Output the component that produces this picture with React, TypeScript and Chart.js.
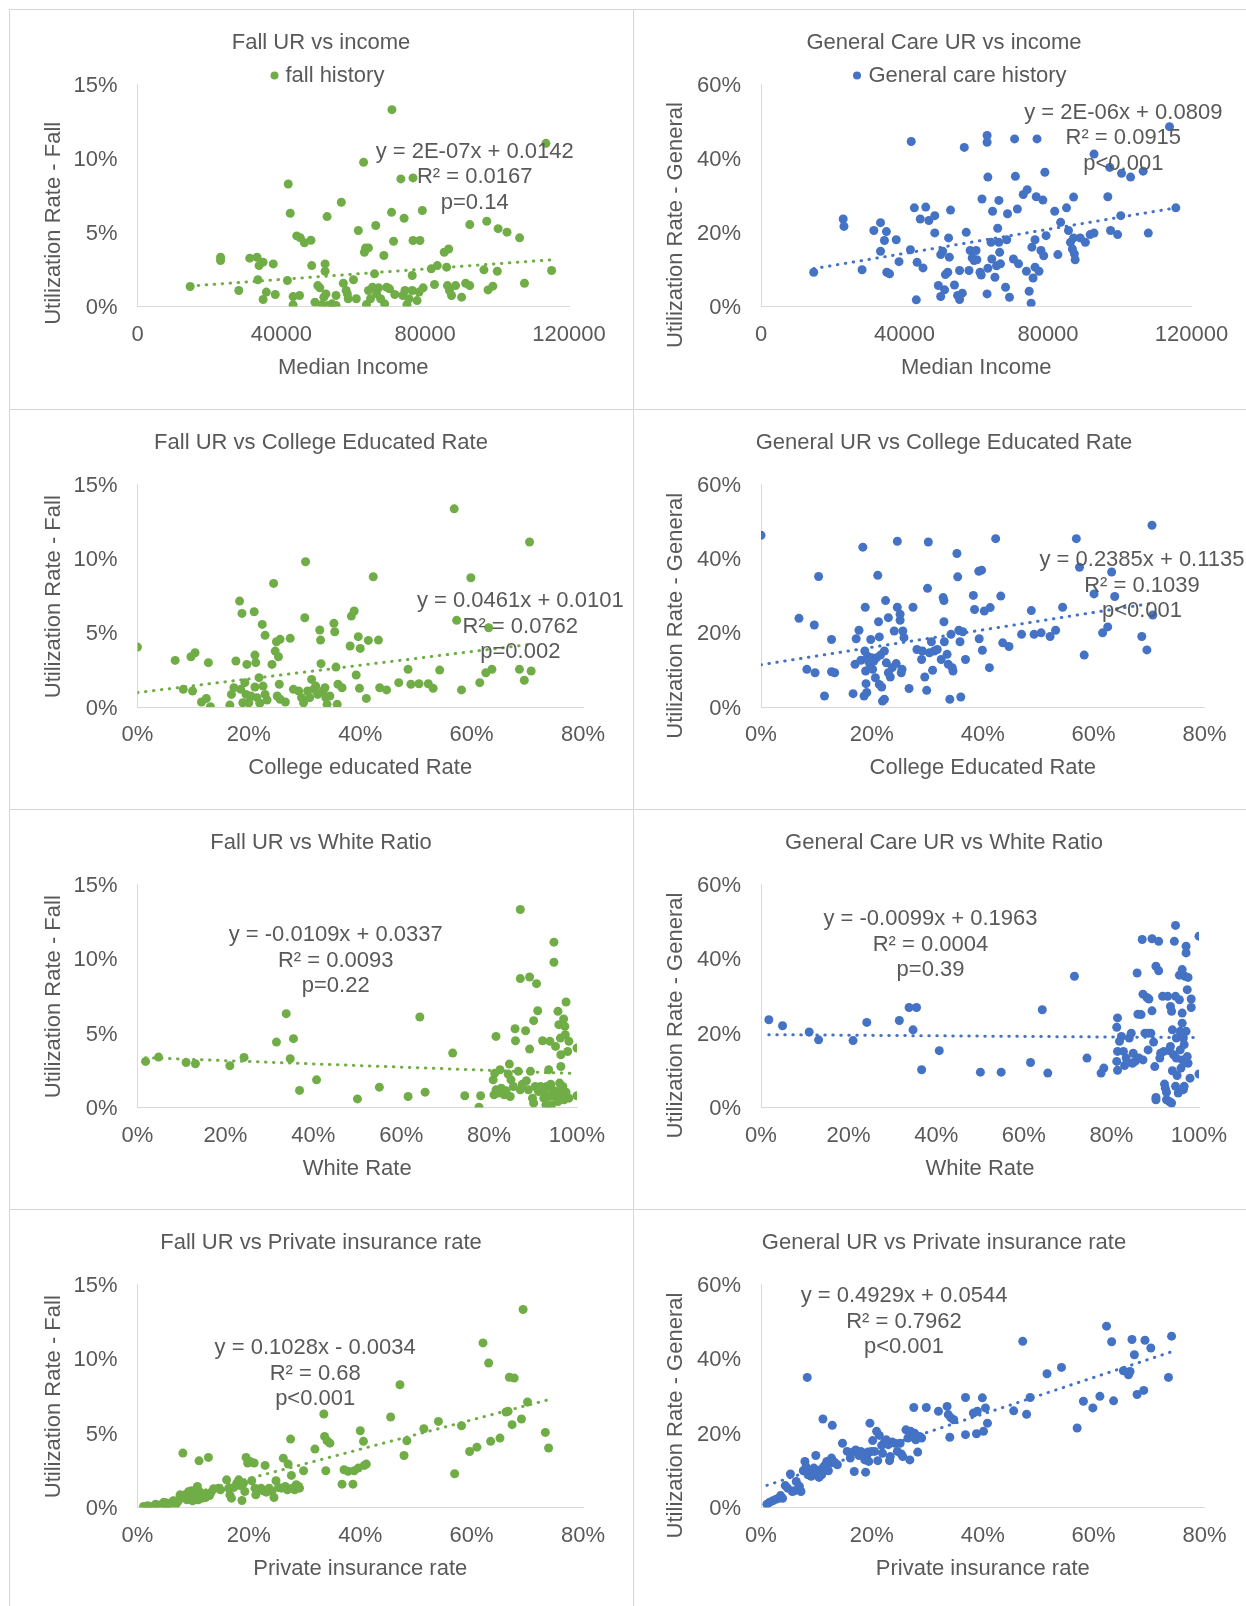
import React, { useEffect, useRef } from 'react';
import { Chart, registerables } from 'chart.js';
Chart.register(...registerables);

const GREEN = '#70AD47';
const BLUE = '#4472C4';
const TEXT = '#595959';
const AXIS = '#D9D9D9';
const FRAME = '#D6D6D6';
const FONT = '"Liberation Sans", Arial, Helvetica, sans-serif';

// ---------- tick labels ----------
const incomeTicks = [0, 40000, 80000, 120000];
const pct80Ticks = [0, 20, 40, 60, 80];
const pct100Ticks = [0, 20, 40, 60, 80, 100];
const fallTicks = [0, 5, 10, 15];
const generalTicks = [0, 20, 40, 60];

// ---------- Fall UR vs income ----------
const incomeFallX = [14650,23100,23100,28170,31210,33240,33800,33470,34930,34930,35830,37750,38310,41690,41920,42480,43270,43270,44280,45300,46420,45070,48230,48450,49350,50140,50710,51270,52170,52170,52730,51830,52400,52960,54090,55210,55210,56680,57240,58030,58370,58590,60060,61410,60850,62880,63100,63440,64230,63670,64230,64790,65350,65920,66260,66480,67050,67610,68510,68730,69300,70090,70650,70760,71210,71550,73240,74140,73800,74370,74930,75500,76400,76620,76620,76400,77750,78310,78540,79210,79440,81690,82590,83380,85300,85970,86540,86200,86760,87330,88460,90140,91270,92400,92400,96340,97130,97470,98820,100060,100290,102760,106260,107610,113580,115160];
const incomeFallY = [1.35,3.32,3.10,1.08,3.26,3.32,2.76,1.80,2.99,0.47,0.97,2.87,0.81,1.75,8.26,6.29,0.67,0.11,4.76,4.63,4.29,0.74,4.47,2.76,0.29,1.41,1.26,0.13,2.87,2.38,6.06,0.63,0.85,0.07,0.18,0.74,0.07,7.03,1.57,1.08,0.85,0.52,1.80,5.12,0.52,9.72,3.66,3.95,3.95,0.13,1.08,0.52,1.30,2.20,5.46,0.85,1.26,0.52,3.44,0.18,1.30,1.19,6.35,13.27,4.40,0.81,8.60,5.95,0.74,1.08,0.13,0.52,2.09,8.67,4.45,1.08,0.40,0.97,4.45,6.47,1.26,2.54,1.48,2.76,3.66,2.65,3.88,1.41,1.08,0.74,1.41,0.63,1.57,1.41,5.52,2.47,5.75,1.12,1.37,2.38,5.25,5.01,4.63,1.57,11.0,2.43];
const incomeFallTrendX = [14650, 115160];
const incomeFallTrendY = [1.38, 3.15];

// ---------- General Care UR vs income ----------
const incomeGenX = [14690,22910,23130,28170,31460,33320,33320,34410,34960,35070,35840,37700,38470,41650,41870,42740,43290,43510,44390,45160,45920,46800,48440,48440,49430,50090,50090,50640,51180,51400,52060,52280,52500,52830,53920,54800,55350,56120,55350,56660,57210,57980,58310,58860,59400,59950,60170,61050,61600,61380,63020,63020,63240,63020,63240,64120,64340,64550,65210,65650,66310,65980,66310,66530,66750,68170,68500,68720,69270,70690,70910,70360,71460,71790,73100,74200,73980,74750,75300,75510,75840,76390,76720,76940,76390,77490,78040,78580,78800,79130,79460,81870,82750,83520,85160,85710,86260,86800,87130,87130,87350,87570,88990,90420,91740,92830,92830,96670,97220,97430,99410,100280,100500,103020,106530,107960,113870,115630];
const incomeGenY = [9.25,23.6,21.6,9.9,20.5,22.6,14.9,17.8,20.2,9.25,8.8,18.0,12.1,15.3,44.5,26.6,1.8,11.9,23.6,10.4,26.8,23.2,24.5,19.85,5.66,2.7,14.0,14.9,4.5,8.6,9.25,18.5,13.3,26.0,5.8,3.0,1.9,3.6,9.7,42.9,20.0,9.7,15.1,13.1,12.4,15.1,12.6,9.25,29.0,8.5,46.1,44.3,34.9,3.4,10.3,17.3,12.8,25.7,7.9,11.0,28.6,21.1,17.3,14.6,11.5,5.2,18.0,25.0,2.5,45.2,35.1,12.8,26.3,11.5,30.2,31.5,9.5,4.1,0.9,16.0,7.7,10.6,29.6,45.2,18.0,9.5,15.1,28.7,13.7,36.2,19.1,25.7,14.0,22.7,26.6,20.5,17.3,15.5,18.5,29.5,14.2,12.6,18.5,17.3,19.4,19.8,41.1,29.6,37.5,20.5,19.4,24.5,35.9,34.9,36.5,19.8,48.5,26.6];
const incomeGenTrendX = [14690, 115630];
const incomeGenTrendY = [10.2, 26.6];

// ---------- Fall UR vs College Educated Rate ----------
const collegeFallX = [0,6.76,8.22,9.6,9.89,10.33,12.73,11.49,12.36,13.09,16.58,16.87,17.31,17.67,18.33,18.76,18.55,18.91,19.27,19.49,19.64,20.0,20.36,20.95,21.09,21.24,21.09,21.45,21.82,21.96,22.4,22.55,22.91,22.91,23.27,24.15,24.44,24.73,24.95,25.31,25.6,25.46,25.09,25.6,26.55,27.42,28.0,28.95,29.46,29.82,30.04,30.18,30.55,30.91,31.27,31.64,32.0,32.36,32.73,32.87,32.95,33.31,33.67,33.82,34.04,34.55,35.27,35.42,35.64,35.86,36.0,36.73,38.18,38.4,38.91,39.27,39.64,40.0,39.86,41.09,41.45,42.33,43.27,43.49,44.73,46.91,48.58,49.09,50.55,52.22,53.09,54.26,57.31,56.87,58.18,59.86,61.46,62.55,63.06,63.64,68.58,69.46,70.4,70.69];
const collegeFallY = [4.04,3.14,1.19,3.39,1.08,3.66,2.99,0.34,0.58,0.02,0.13,0.85,1.30,3.10,7.14,6.31,1.19,0.29,1.64,0.85,2.87,0.29,0.74,6.42,3.50,2.99,1.35,0.63,1.98,0.25,5.57,1.41,4.83,0.85,0.47,2.87,8.33,3.77,4.40,3.39,4.56,1.53,0.74,0.52,0.34,4.63,1.19,1.08,0.63,0.29,6.02,9.79,1.08,0.63,1.86,1.19,1.41,0.85,5.19,4.51,2.92,1.08,1.30,0.63,0.18,0.74,5.64,5.07,2.69,0.18,1.53,1.30,4.11,6.13,6.47,2.16,4.74,3.95,1.26,0.58,4.49,8.78,4.51,1.30,1.15,1.64,2.54,1.53,1.57,1.57,1.26,2.49,5.84,13.36,1.15,8.71,1.64,2.31,5.34,2.54,2.54,1.80,11.12,2.43];
const collegeFallTrendX = [0, 70.69];
const collegeFallTrendY = [0.97, 4.23];

// ---------- General UR vs College Educated Rate ----------
const collegeGenX = [0,6.85,8.27,9.61,9.75,10.39,11.45,12.72,12.72,13.29,16.61,16.96,17.17,17.67,18.02,18.37,18.59,18.8,18.73,18.87,18.94,19.08,19.22,19.43,19.65,19.79,19.93,20.14,20.35,20.64,20.85,21.06,21.2,21.34,21.34,21.55,21.77,21.91,22.26,22.26,22.47,22.61,22.97,22.97,23.32,23.67,24.03,24.38,24.59,24.59,25.09,25.09,25.3,25.44,25.58,25.79,26.71,27.42,28.13,28.97,29.12,29.54,29.89,30.04,30.18,30.39,30.74,30.95,31.24,31.8,32.51,32.86,33.0,33.0,33.07,33.57,33.78,34.06,34.27,34.49,34.63,35.34,35.48,35.69,35.9,36.04,36.4,36.89,38.3,38.52,39.29,39.79,39.36,39.93,40.28,41.34,41.2,42.33,43.25,43.6,44.73,47.0,48.76,49.26,50.53,52.15,53.14,54.41,56.88,57.45,58.3,60.07,61.62,62.54,63.25,63.81,68.69,69.61,70.67,70.53];
const collegeGenY = [46.3,23.9,10.15,22.1,9.25,35.2,2.96,18.2,9.5,9.25,3.6,11.5,18.4,20.7,12.6,43.1,2.96,26.9,15.1,9.7,6.3,3.9,13.7,12.2,10.6,18.2,13.3,10.15,12.4,7.9,13.3,35.5,23.0,18.9,6.1,14.0,5.4,1.6,2.1,15.1,28.7,11.9,24.1,9.25,8.1,10.6,20.5,11.7,44.7,26.9,23.4,25.0,9.25,10.15,20.5,18.7,5.0,26.9,15.5,12.8,15.1,8.1,4.5,32.0,44.5,14.6,17.6,9.9,15.1,15.5,12.8,29.5,28.7,23.0,17.6,14.2,11.5,2.1,19.6,10.6,9.7,41.4,35.1,20.7,17.6,2.7,20.3,12.8,30.1,26.3,36.6,36.9,18.4,15.3,25.9,26.8,10.6,45.4,29.9,17.3,16.3,19.6,26.0,19.6,20.0,19.0,20.7,26.9,45.4,37.7,14.0,30.5,20.0,21.6,36.4,29.8,19.0,15.4,24.8,49.0];
const collegeGenTrendX = [0, 70.67];
const collegeGenTrendY = [11.4, 28.0];

// ---------- Fall UR vs White Ratio ----------
const whiteFallX = [1.84,4.79,11.06,13.18,21.01,24.24,31.61,33.83,34.75,35.49,36.87,40.74,50.05,55.03,61.57,64.24,65.44,71.71,74.47,77.7,78.07,80.93,81.29,81.57,81.11,81.57,82.03,82.49,82.77,83.41,83.87,84.34,84.61,84.8,84.98,85.53,85.9,86.0,86.64,87.1,87.1,87.1,87.56,88.3,88.48,88.94,89.22,89.22,89.4,89.87,90.14,90.14,90.51,90.79,91.06,91.25,91.71,92.17,92.45,92.63,92.91,93.09,93.55,93.55,93.83,94.01,94.2,94.47,94.75,94.75,94.94,95.12,95.4,95.67,95.67,95.86,96.04,96.22,96.32,96.32,96.6,96.78,96.96,97.06,97.24,97.33,97.51,97.51,97.88,98.16,98.16,100,100];
const whiteFallY = [3.10,3.39,3.03,2.94,2.81,3.37,4.40,6.31,3.28,4.63,1.15,1.86,0.58,1.37,0.74,6.09,1.03,3.66,0.79,0.02,0.79,1.86,2.31,4.78,0.85,1.19,0.97,2.54,1.30,0.85,1.12,2.25,2.92,0.74,1.86,1.41,5.30,4.49,2.43,13.32,8.67,1.19,1.57,5.16,1.80,1.19,8.78,3.93,2.43,0.63,0.29,5.84,1.41,8.33,6.51,1.08,1.41,4.49,0.63,0.97,0.18,1.41,2.54,0.74,4.45,1.57,0.18,1.19,11.12,9.77,0.74,4.11,1.08,6.47,0.40,5.57,1.64,4.67,3.55,2.76,0.90,1.41,5.95,0.52,5.46,4.90,7.10,1.03,3.77,4.45,0.63,4.0,0.79];
const whiteFallTrendX = [1.84, 100];
const whiteFallTrendY = [3.35, 2.28];

// ---------- General Care UR vs White Ratio ----------
const whiteGenX = [1.79,4.92,11.0,13.15,21.02,24.15,31.58,33.81,35.51,34.71,36.67,40.7,50.09,54.83,61.54,64.22,65.48,71.56,74.42,77.64,78.27,81.4,81.22,81.4,81.22,81.4,81.85,82.29,82.74,83.01,83.37,84.08,84.53,84.8,84.98,85.42,85.87,86.05,86.32,86.77,87.03,87.21,87.21,87.66,88.11,88.38,88.38,88.56,89.0,89.27,89.27,89.63,89.9,90.17,90.17,90.17,90.79,90.79,91.06,91.24,91.69,91.96,92.13,92.31,92.58,92.58,92.85,93.21,93.21,93.48,93.48,93.74,93.74,93.92,93.92,94.19,94.37,94.64,94.64,94.64,94.82,94.82,95.0,95.26,95.53,95.53,95.71,95.71,95.89,96.16,96.16,96.16,96.16,96.43,96.43,96.61,96.61,96.79,96.79,97.05,97.05,97.05,97.32,97.32,97.5,97.5,97.95,98.22,98.22,100,100];
const whiteGenY = [23.6,22.0,20.3,18.2,18.0,22.9,23.4,26.9,26.9,20.9,10.15,15.3,9.5,9.5,12.1,26.3,9.25,35.3,13.3,9.25,10.6,24.1,21.6,15.1,12.4,10.0,17.8,19.1,15.1,11.3,13.3,18.7,20.0,11.9,14.6,12.4,36.2,25.1,13.3,25.0,45.2,30.5,12.8,20.0,29.6,20.0,15.5,29.2,20.0,45.4,26.0,17.6,11.0,2.7,2.1,38.0,36.8,44.7,13.3,14.6,29.9,15.1,6.3,5.2,4.1,2.1,29.9,15.3,1.6,27.2,16.4,25.9,1.2,20.9,9.9,14.2,44.7,49.0,29.9,5.7,18.7,13.3,8.6,3.9,35.6,29.0,20.5,15.5,10.6,25.4,22.7,37.1,12.8,4.8,18.7,5.7,16.9,35.3,12.2,43.4,41.6,20.5,31.7,13.7,35.0,11.9,7.9,29.2,26.9,46.1,9.0];
const whiteGenTrendX = [1.79, 100];
const whiteGenTrendY = [19.6, 18.8];

// ---------- Fall UR vs Private insurance rate ----------
const insFallX = [1.09,1.82,2.55,3.27,4.0,4.73,5.09,5.45,5.82,6.4,6.91,7.27,7.64,7.85,8.15,8.36,8.73,8.87,9.24,9.45,9.67,9.89,10.18,10.55,10.76,10.91,11.05,11.27,11.64,11.85,12.22,12.51,12.73,12.95,13.24,13.67,14.55,14.91,16.0,16.36,16.58,16.87,17.31,17.82,18.18,18.47,18.76,19.05,19.27,19.49,19.78,20.22,20.51,20.95,21.09,21.24,21.67,22.18,22.55,22.91,23.13,23.64,24.15,24.51,24.87,25.31,25.82,26.18,26.55,26.91,27.06,27.49,27.64,27.78,28.22,28.51,28.95,29.09,29.82,31.86,33.46,33.6,33.82,34.04,34.55,36.73,37.09,37.82,38.69,38.91,39.64,40.0,40.58,40.73,41.09,45.46,47.13,47.86,48.37,51.42,54.04,56.95,58.18,59.64,60.95,62.04,63.06,63.42,65.09,66.18,66.55,66.77,67.64,67.27,68.95,69.24,70.04,73.24,73.82];
const insFallY = [0.07,0.11,0.07,0.22,0.13,0.36,0.18,0.0,0.29,0.45,0.22,0.40,0.85,0.63,3.66,0.67,0.90,0.52,1.08,0.67,1.12,0.45,0.85,1.19,1.41,0.52,3.14,1.03,0.63,0.85,0.67,0.90,3.37,0.81,1.03,1.26,1.30,1.19,1.86,1.30,0.85,0.63,1.35,1.64,1.86,1.48,0.47,1.64,1.08,3.37,2.99,3.10,1.80,2.99,1.30,0.85,1.19,1.30,1.12,2.83,1.03,1.30,1.08,0.67,1.80,1.35,1.30,3.32,1.41,1.19,2.92,4.60,2.16,1.30,1.19,1.53,1.41,1.30,2.47,3.93,6.29,4.78,2.47,4.49,4.33,1.57,2.54,2.43,1.57,2.47,2.65,5.16,4.45,2.83,2.92,6.09,8.26,3.50,4.49,5.30,5.79,2.27,5.50,3.77,4.06,11.07,9.72,4.45,4.67,6.42,6.47,8.76,8.71,5.57,5.95,13.32,7.10,5.05,4.0];
const insFallTrendX = [1.09, 73.82];
const insFallTrendY = [0.08, 7.25];

// ---------- General UR vs Private insurance rate ----------
const insGenX = [1.06,1.55,2.12,2.69,3.18,3.53,3.89,4.38,4.81,5.3,5.65,6.01,6.36,6.93,7.21,7.63,7.92,8.13,8.34,8.48,8.83,9.05,9.33,9.54,9.89,10.04,10.25,10.46,10.74,10.95,11.17,11.31,11.66,11.87,12.16,12.37,12.72,12.86,13.07,13.43,13.78,14.7,15.55,16.11,16.61,16.82,17.1,17.67,18.02,18.37,18.73,18.87,19.08,19.29,19.43,19.65,19.93,20.14,20.49,20.85,21.06,21.34,21.77,21.91,22.26,22.61,22.97,23.18,23.32,23.67,24.17,24.59,25.09,25.3,25.58,26.15,26.5,26.85,26.99,27.42,27.56,27.7,27.91,28.27,28.62,28.97,29.82,32.01,33.57,33.78,34.06,34.27,34.77,36.89,36.89,38.3,38.87,39.01,39.93,40.14,40.49,40.85,45.58,47.21,47.91,48.55,51.59,54.2,57.03,58.16,59.86,61.13,62.33,63.25,63.6,65.37,66.29,66.57,66.92,67.35,67.84,69.04,69.26,70.32,73.5,74.06];
const insGenY = [0.9,1.4,1.8,2.2,2.5,3.2,2.5,5.9,5.2,9.0,4.3,4.5,7.0,5.7,4.3,9.9,12.4,11.0,35.0,8.8,9.9,8.4,9.5,10.6,14.0,9.0,9.9,8.1,10.15,8.8,23.8,11.0,11.5,12.4,9.9,11.9,13.3,22.1,12.4,11.9,11.5,17.3,15.1,13.3,14.9,9.7,15.5,14.0,15.1,14.6,12.8,9.5,14.0,14.9,12.4,22.7,15.1,18.0,15.1,20.5,12.6,19.4,16.7,14.6,17.6,18.2,16.9,12.6,13.7,17.6,17.3,15.1,17.3,14.4,13.7,20.9,18.7,12.8,20.5,19.1,26.9,20.0,18.2,14.9,19.1,18.7,26.9,25.9,27.2,25.0,18.9,24.1,23.6,29.6,19.6,25.4,19.85,25.9,29.5,20.5,26.8,22.7,26.0,44.7,25.1,29.6,36.0,37.7,21.4,28.6,26.8,29.9,48.8,44.6,28.7,36.8,35.7,36.6,45.2,41.1,30.4,31.5,45.0,42.9,35.0,46.1];
const insGenTrendX = [1.06, 74.06];
const insGenTrendY = [5.96, 41.9];

// ---------- panel layout (page pixels) ----------
type Panel = {
  title: string; legend?: string; xTitle: string; yTitle: string; ann: string[];
  xs: number[]; ys: number[]; tx: number[]; ty: number[]; color: string;
  xTicks: number[]; yTicks: number[]; xPct: boolean;
  cell: number[]; plot: number[]; titleX: number; yTitleX: number; yTitleY: number;
  annX: number; annY: number; legendPos?: number[];
};

const ROW_Y = [9, 409, 809, 1209];
const ROW_H = [400, 400, 400, 397];
const PLOT_T = [84, 484.5, 884.5, 1284.5];
const PLOT_B = [306.5, 707, 1107.5, 1507.5];
const LEFT = { x: 9, w: 624, plotL: 137.5, titleX: 321, yTitleX: 53.8 };
const RIGHT = { x: 633, w: 613, plotL: 761, titleX: 944, yTitleX: 676.4 };
const TEXT_DY = 1.5;

function mk(col: typeof LEFT, row: number, plotR: number, rest: any): Panel {
  return {
    ...rest,
    cell: [col.x, ROW_Y[row], col.w, ROW_H[row]],
    plot: [col.plotL, plotR, PLOT_T[row], PLOT_B[row]],
    titleX: col.titleX,
    yTitleX: col.yTitleX,
  };
}

const panels: Panel[] = [
  mk(LEFT, 0, 569, {
    title: 'Fall UR vs income', legend: 'fall history', xTitle: 'Median Income', yTitle: 'Utilization Rate - Fall',
    ann: ['y = 2E-07x + 0.0142', 'R² = 0.0167', 'p=0.14'],
    xs: incomeFallX, ys: incomeFallY, tx: incomeFallTrendX, ty: incomeFallTrendY, color: GREEN,
    xTicks: incomeTicks, yTicks: fallTicks, xPct: false, yTitleY: 223.3, annX: 474.7, annY: 175.5, legendPos: [274.5, 285.4, 74],
  }),
  mk(RIGHT, 0, 1191.5, {
    title: 'General Care UR vs income', legend: 'General care history', xTitle: 'Median Income', yTitle: 'Utilization Rate - General',
    ann: ['y = 2E-06x + 0.0809', 'R² = 0.0915', 'p<0.001'],
    xs: incomeGenX, ys: incomeGenY, tx: incomeGenTrendX, ty: incomeGenTrendY, color: BLUE,
    xTicks: incomeTicks, yTicks: generalTicks, xPct: false, yTitleY: 225, annX: 1123.3, annY: 136.8, legendPos: [857, 868.5, 74],
  }),
  mk(LEFT, 1, 583, {
    title: 'Fall UR vs College Educated Rate', xTitle: 'College educated Rate', yTitle: 'Utilization Rate - Fall',
    ann: ['y = 0.0461x + 0.0101', 'R² = 0.0762', 'p=0.002'],
    xs: collegeFallX, ys: collegeFallY, tx: collegeFallTrendX, ty: collegeFallTrendY, color: GREEN,
    xTicks: pct80Ticks, yTicks: fallTicks, xPct: true, yTitleY: 596.7, annX: 520.3, annY: 625,
  }),
  mk(RIGHT, 1, 1204.5, {
    title: 'General UR vs College Educated Rate', xTitle: 'College Educated Rate', yTitle: 'Utilization Rate - General',
    ann: ['y = 0.2385x + 0.1135', 'R² = 0.1039', 'p<0.001'],
    xs: collegeGenX, ys: collegeGenY, tx: collegeGenTrendX, ty: collegeGenTrendY, color: BLUE,
    xTicks: pct80Ticks, yTicks: generalTicks, xPct: true, yTitleY: 615.8, annX: 1142, annY: 584,
  }),
  mk(LEFT, 2, 577, {
    title: 'Fall UR vs White Ratio', xTitle: 'White Rate', yTitle: 'Utilization Rate - Fall',
    ann: ['y = -0.0109x + 0.0337', 'R² = 0.0093', 'p=0.22'],
    xs: whiteFallX, ys: whiteFallY, tx: whiteFallTrendX, ty: whiteFallTrendY, color: GREEN,
    xTicks: pct100Ticks, yTicks: fallTicks, xPct: true, yTitleY: 996.7, annX: 335.7, annY: 959,
  }),
  mk(RIGHT, 2, 1199, {
    title: 'General Care UR vs White Ratio', xTitle: 'White Rate', yTitle: 'Utilization Rate - General',
    ann: ['y = -0.0099x + 0.1963', 'R² = 0.0004', 'p=0.39'],
    xs: whiteGenX, ys: whiteGenY, tx: whiteGenTrendX, ty: whiteGenTrendY, color: BLUE,
    xTicks: pct100Ticks, yTicks: generalTicks, xPct: true, yTitleY: 1015.5, annX: 930.5, annY: 943,
  }),
  mk(LEFT, 3, 583, {
    title: 'Fall UR vs Private insurance rate', xTitle: 'Private insurance rate', yTitle: 'Utilization Rate - Fall',
    ann: ['y = 0.1028x - 0.0034', 'R² = 0.68', 'p<0.001'],
    xs: insFallX, ys: insFallY, tx: insFallTrendX, ty: insFallTrendY, color: GREEN,
    xTicks: pct80Ticks, yTicks: fallTicks, xPct: true, yTitleY: 1396.7, annX: 315.2, annY: 1372,
  }),
  mk(RIGHT, 3, 1204.5, {
    title: 'General UR vs Private insurance rate', xTitle: 'Private insurance rate', yTitle: 'Utilization Rate - General',
    ann: ['y = 0.4929x + 0.0544', 'R² = 0.7962', 'p<0.001'],
    xs: insGenX, ys: insGenY, tx: insGenTrendX, ty: insGenTrendY, color: BLUE,
    xTicks: pct80Ticks, yTicks: generalTicks, xPct: true, yTitleY: 1415.5, annX: 904, annY: 1320.3,
  }),
];

const FS = 22;
const ANN_GAP = 25.5;

function buildConfig(p: Panel, idx: number): any {
  const [cx, cy, cw, ch] = p.cell;
  const [pl, pr, pt, pb] = p.plot;
  const pts = p.xs.map((x, i) => ({ x, y: p.ys[i] }));
  const trend = p.tx.map((x, i) => ({ x, y: p.ty[i] }));
  const textPlugin = {
    id: 'panelText' + idx,
    afterDraw(chart: any) {
      const ctx = chart.ctx as CanvasRenderingContext2D;
      const area = chart.chartArea;
      ctx.save();
      ctx.fillStyle = TEXT;
      ctx.font = `${FS}px ${FONT}`;
      ctx.textAlign = 'center';
      ctx.textBaseline = 'middle';
      ctx.fillText(p.title, p.titleX - cx, 32.6 + TEXT_DY);
      ctx.fillText(p.xTitle, (area.left + area.right) / 2, pb + 59.7 - cy + TEXT_DY);
      p.ann.forEach((t, i) => {
        ctx.fillText(t, p.annX - cx, p.annY - cy + (i - 1) * ANN_GAP + TEXT_DY);
      });
      if (p.legend && p.legendPos) {
        const [mx, tx, ly] = p.legendPos;
        ctx.beginPath();
        ctx.fillStyle = p.color;
        ctx.arc(mx - cx, ly - cy + TEXT_DY, 4, 0, Math.PI * 2);
        ctx.fill();
        ctx.fillStyle = TEXT;
        ctx.textAlign = 'left';
        ctx.fillText(p.legend, tx - cx, ly - cy + TEXT_DY);
        ctx.textAlign = 'center';
      }
      ctx.translate(p.yTitleX - cx, p.yTitleY - cy);
      ctx.rotate(-Math.PI / 2);
      ctx.fillText(p.yTitle, 0, 0);
      ctx.restore();
    },
  };
  const tickFont = { family: FONT, size: FS };
  return {
    type: 'scatter',
    data: {
      datasets: [
        {
          data: trend, showLine: true, borderColor: p.color, borderWidth: 3,
          borderDash: [0.5, 7.5], borderCapStyle: 'round', pointRadius: 0, pointHoverRadius: 0, fill: false,
        },
        {
          data: pts, backgroundColor: p.color, borderColor: p.color, borderWidth: 0,
          pointRadius: 4.5, pointHoverRadius: 4.5, showLine: false,
        },
      ],
    },
    options: {
      responsive: false,
      animation: false,
      events: [],
      layout: { padding: { left: 0, top: pt - cy, right: cx + cw - pr, bottom: 0 } },
      plugins: { legend: { display: false }, title: { display: false }, tooltip: { enabled: false } },
      scales: {
        x: {
          type: 'linear',
          min: p.xTicks[0],
          max: p.xTicks[p.xTicks.length - 1],
          afterBuildTicks: (s: any) => { s.ticks = p.xTicks.map((v) => ({ value: v })); },
          afterFit: (s: any) => { s.height = cy + ch - pb; },
          ticks: {
            autoSkip: false, maxRotation: 0, padding: 15, color: TEXT, font: tickFont,
            callback: (v: any) => (p.xPct ? v + '%' : String(v)),
          },
          grid: { display: false, drawTicks: false },
          border: { display: true, color: AXIS, width: 1 },
        },
        y: {
          type: 'linear',
          min: p.yTicks[0],
          max: p.yTicks[p.yTicks.length - 1],
          afterBuildTicks: (s: any) => { s.ticks = p.yTicks.map((v) => ({ value: v })); },
          afterFit: (s: any) => { s.width = pl - cx; },
          ticks: {
            autoSkip: false, padding: 20, labelOffset: 1.5, color: TEXT, font: tickFont,
            callback: (v: any) => v + '%',
          },
          grid: { display: false, drawTicks: false },
          border: { display: true, color: AXIS, width: 1 },
        },
      },
    },
    plugins: [textPlugin],
  };
}

function PanelChart({ p, idx }: { p: Panel; idx: number }) {
  const ref = useRef<HTMLCanvasElement>(null);
  useEffect(() => {
    if (!ref.current) return;
    const chart = new Chart(ref.current, buildConfig(p, idx));
    return () => chart.destroy();
  }, []);
  const [cx, cy, cw, ch] = p.cell;
  return (
    <canvas
      ref={ref}
      width={cw}
      height={ch}
      style={{ position: 'absolute', left: cx, top: cy, width: cw, height: ch }}
    />
  );
}

export default function App() {
  return (
    <div style={{ position: 'absolute', left: 0, top: 0, width: 1246, height: 1606, background: '#fff', overflow: 'hidden' }}>
      {panels.map((p, i) => <PanelChart key={i} p={p} idx={i} />)}
      <div style={{ position: 'absolute', left: 9, top: 9, width: 1, height: 1597, background: FRAME }} />
      <div style={{ position: 'absolute', left: 633, top: 9, width: 1, height: 1597, background: FRAME }} />
      {ROW_Y.map((y) => (
        <div key={y} style={{ position: 'absolute', left: 9, top: y, width: 1237, height: 1, background: FRAME }} />
      ))}
    </div>
  );
}
